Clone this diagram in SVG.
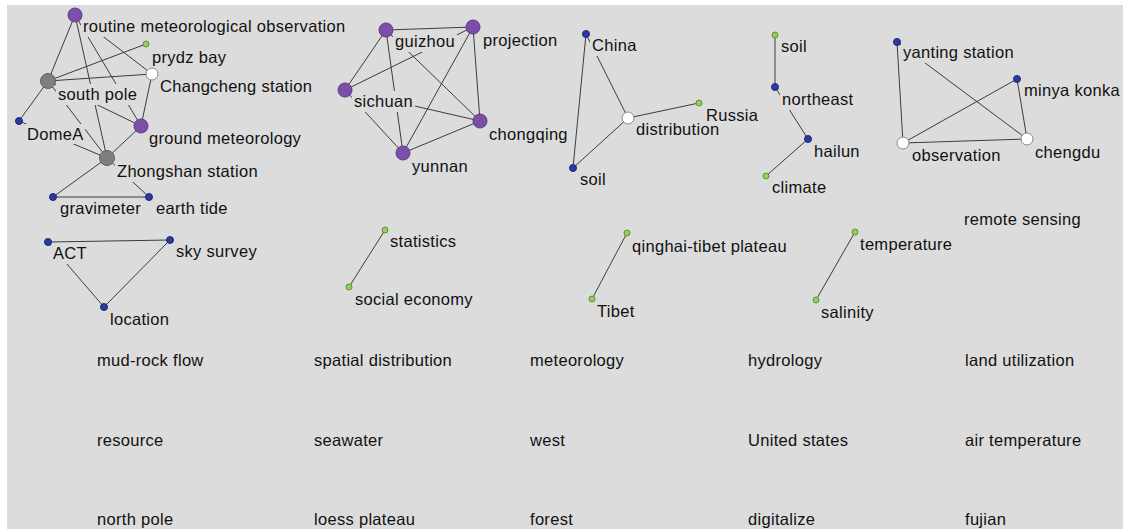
<svg xmlns="http://www.w3.org/2000/svg" width="1123" height="531" viewBox="0 0 1123 531">
<style>
text{font-family:"Liberation Sans",Arial,sans-serif;font-size:16.5px;letter-spacing:0.3px;fill:#111}
.e line{stroke:#3c3c3c;stroke-width:1}
.lb{fill:#dcdcdc}
.pu{fill:#7b4fa9;stroke:#5e3a88;stroke-width:1}
.gr{fill:#7f7f7f;stroke:#606060;stroke-width:1}
.wh{fill:#ffffff;stroke:#8a8a8a;stroke-width:1}
.bl{fill:#2b3aa0;stroke:#1c2878;stroke-width:1}
.gn{fill:#94d254;stroke:#5f8f34;stroke-width:1}
</style>
<rect x="0" y="0" width="1123" height="531" fill="#ffffff"/>
<rect x="7" y="5" width="1116" height="524" fill="#dcdcdc"/>
<g id="connectors" class="e">
<line x1="75" y1="15" x2="48" y2="81"/>
<line x1="75" y1="15" x2="107" y2="158"/>
<line x1="75" y1="15" x2="141" y2="126"/>
<line x1="75" y1="15" x2="152" y2="74"/>
<line x1="146" y1="44" x2="48" y2="81"/>
<line x1="48" y1="81" x2="152" y2="74"/>
<line x1="48" y1="81" x2="19" y2="121"/>
<line x1="152" y1="74" x2="141" y2="126"/>
<line x1="48" y1="81" x2="107" y2="158"/>
<line x1="19" y1="121" x2="107" y2="158"/>
<line x1="48" y1="81" x2="141" y2="126"/>
<line x1="107" y1="158" x2="141" y2="126"/>
<line x1="107" y1="158" x2="53" y2="197"/>
<line x1="107" y1="158" x2="149" y2="197"/>
<line x1="53" y1="197" x2="149" y2="197"/>
<line x1="386" y1="30" x2="473" y2="27"/>
<line x1="386" y1="30" x2="345" y2="90"/>
<line x1="473" y1="27" x2="345" y2="90"/>
<line x1="386" y1="30" x2="403" y2="153"/>
<line x1="386" y1="30" x2="480" y2="121"/>
<line x1="473" y1="27" x2="480" y2="121"/>
<line x1="473" y1="27" x2="403" y2="153"/>
<line x1="345" y1="90" x2="480" y2="121"/>
<line x1="345" y1="90" x2="403" y2="153"/>
<line x1="480" y1="121" x2="403" y2="153"/>
<line x1="586" y1="34" x2="573" y2="168"/>
<line x1="586" y1="34" x2="628" y2="118"/>
<line x1="628" y1="118" x2="699" y2="103"/>
<line x1="628" y1="118" x2="573" y2="168"/>
<line x1="775" y1="35" x2="775" y2="87"/>
<line x1="775" y1="87" x2="808" y2="139"/>
<line x1="808" y1="139" x2="766" y2="176"/>
<line x1="897" y1="42" x2="903" y2="143"/>
<line x1="897" y1="42" x2="1027" y2="139"/>
<line x1="1017" y1="79" x2="903" y2="143"/>
<line x1="1017" y1="79" x2="1027" y2="139"/>
<line x1="903" y1="143" x2="1027" y2="139"/>
<line x1="48" y1="242" x2="170" y2="240"/>
<line x1="48" y1="242" x2="104" y2="307"/>
<line x1="170" y1="240" x2="104" y2="307"/>
<line x1="385" y1="230" x2="349" y2="287"/>
<line x1="627" y1="233" x2="592" y2="299"/>
<line x1="855" y1="232" x2="816" y2="300"/>
</g>
<g id="n-routine"><rect class="lb" x="81" y="16" width="266" height="21"/><circle class="pu" cx="75" cy="15" r="7"/><text x="83" y="32">routine meteorological observation</text></g>
<g id="n-prydz"><rect class="lb" x="150" y="47" width="78" height="21"/><circle class="gn" cx="146" cy="44" r="3"/><text x="152" y="63">prydz bay</text></g>
<g id="n-changcheng"><rect class="lb" x="158" y="76" width="157" height="21"/><circle class="wh" cx="152" cy="74" r="6"/><text x="160" y="92">Changcheng station</text></g>
<g id="n-southpole"><rect class="lb" x="56" y="84" width="83" height="21"/><circle class="gr" cx="48" cy="81" r="7.5"/><text x="58" y="100">south pole</text></g>
<g id="n-domea"><rect class="lb" x="25" y="124" width="60" height="20"/><circle class="bl" cx="19" cy="121" r="3.5"/><text x="27" y="140">DomeA</text></g>
<g id="n-groundmet"><rect class="lb" x="147" y="128" width="156" height="21"/><circle class="pu" cx="141" cy="126" r="7"/><text x="149" y="144">ground meteorology</text></g>
<g id="n-zhongshan"><rect class="lb" x="115" y="161" width="145" height="21"/><circle class="gr" cx="107" cy="158" r="7.5"/><text x="117" y="177">Zhongshan station</text></g>
<g id="n-gravimeter"><rect class="lb" x="58" y="199" width="85" height="20"/><circle class="bl" cx="53" cy="197" r="3.5"/><text x="60" y="214">gravimeter</text></g>
<g id="n-earthtide"><rect class="lb" x="154" y="199" width="76" height="20"/><circle class="bl" cx="149" cy="197" r="3.5"/><text x="156" y="214">earth tide</text></g>
<g id="n-guizhou"><rect class="lb" x="393" y="31" width="64" height="21"/><circle class="pu" cx="386" cy="30" r="7"/><text x="395" y="47">guizhou</text></g>
<g id="n-projection"><rect class="lb" x="481" y="29" width="78" height="21"/><circle class="pu" cx="473" cy="27" r="7"/><text x="483" y="45.5">projection</text></g>
<g id="n-sichuan"><rect class="lb" x="352" y="91" width="63" height="21"/><circle class="pu" cx="345" cy="90" r="7"/><text x="354" y="107">sichuan</text></g>
<g id="n-chongqing"><rect class="lb" x="487" y="124" width="83" height="21"/><circle class="pu" cx="480" cy="121" r="7"/><text x="489" y="140">chongqing</text></g>
<g id="n-yunnan"><rect class="lb" x="410" y="156" width="60" height="21"/><circle class="pu" cx="403" cy="153" r="7"/><text x="412" y="172">yunnan</text></g>
<g id="n-china"><rect class="lb" x="590" y="35" width="49" height="21"/><circle class="bl" cx="586" cy="34" r="3.5"/><text x="592" y="51">China</text></g>
<g id="n-distribution"><rect class="lb" x="634" y="119" width="88" height="21"/><circle class="wh" cx="628" cy="118" r="6"/><text x="636" y="135">distribution</text></g>
<g id="n-russia"><rect class="lb" x="704" y="105" width="56" height="21"/><circle class="gn" cx="699" cy="103" r="3"/><text x="706" y="121">Russia</text></g>
<g id="n-soil1"><rect class="lb" x="578" y="169" width="30" height="21"/><circle class="bl" cx="573" cy="168" r="3.5"/><text x="580" y="185">soil</text></g>
<g id="n-soil2"><rect class="lb" x="779" y="36" width="30" height="21"/><circle class="gn" cx="775" cy="35" r="3"/><text x="781" y="52">soil</text></g>
<g id="n-northeast"><rect class="lb" x="780" y="89" width="76" height="21"/><circle class="bl" cx="775" cy="87" r="3.5"/><text x="782" y="105">northeast</text></g>
<g id="n-hailun"><rect class="lb" x="812" y="141" width="50" height="21"/><circle class="bl" cx="808" cy="139" r="3.5"/><text x="814" y="157">hailun</text></g>
<g id="n-climate"><rect class="lb" x="770" y="177" width="58" height="21"/><circle class="gn" cx="766" cy="176" r="3"/><text x="772" y="193">climate</text></g>
<g id="n-yanting"><rect class="lb" x="901" y="42" width="115" height="21"/><circle class="bl" cx="897" cy="42" r="3.5"/><text x="903" y="58">yanting station</text></g>
<g id="n-minya"><rect class="lb" x="1022" y="80" width="100" height="21"/><circle class="bl" cx="1017" cy="79" r="3.5"/><text x="1024" y="96">minya konka</text></g>
<g id="n-observation"><rect class="lb" x="910" y="145" width="93" height="21"/><circle class="wh" cx="903" cy="143" r="6"/><text x="912" y="161">observation</text></g>
<g id="n-chengdu"><rect class="lb" x="1033" y="142" width="70" height="21"/><circle class="wh" cx="1027" cy="139" r="6"/><text x="1035" y="158">chengdu</text></g>
<g id="n-act"><rect class="lb" x="51" y="243" width="38" height="21"/><circle class="bl" cx="48" cy="242" r="3.5"/><text x="53" y="259">ACT</text></g>
<g id="n-skysurvey"><rect class="lb" x="174" y="241" width="85" height="21"/><circle class="bl" cx="170" cy="240" r="3.5"/><text x="176" y="257">sky survey</text></g>
<g id="n-location"><rect class="lb" x="108" y="309" width="63" height="21"/><circle class="bl" cx="104" cy="307" r="3.5"/><text x="110" y="325">location</text></g>
<g id="n-statistics"><rect class="lb" x="388" y="231" width="69" height="21"/><circle class="gn" cx="385" cy="230" r="3"/><text x="390" y="247">statistics</text></g>
<g id="n-socialeconomy"><rect class="lb" x="353" y="289" width="122" height="21"/><circle class="gn" cx="349" cy="287" r="3"/><text x="355" y="305">social economy</text></g>
<g id="n-qinghai"><rect class="lb" x="630" y="236" width="151" height="21"/><circle class="gn" cx="627" cy="233" r="3"/><text x="632" y="252">qinghai-tibet plateau</text></g>
<g id="n-tibet"><rect class="lb" x="595" y="301" width="42" height="21"/><circle class="gn" cx="592" cy="299" r="3"/><text x="597" y="317">Tibet</text></g>
<g id="n-temperature"><rect class="lb" x="858" y="234" width="96" height="21"/><circle class="gn" cx="855" cy="232" r="3"/><text x="860" y="250">temperature</text></g>
<g id="n-salinity"><rect class="lb" x="819" y="302" width="57" height="21"/><circle class="gn" cx="816" cy="300" r="3"/><text x="821" y="318">salinity</text></g>
<g id="n-remotesensing"><text x="964" y="225">remote sensing</text></g>
<g id="n-mudrockflow"><text x="97" y="366">mud-rock flow</text></g>
<g id="n-spatialdistribution"><text x="314" y="366">spatial distribution</text></g>
<g id="n-meteorology"><text x="530" y="366">meteorology</text></g>
<g id="n-hydrology"><text x="748" y="366">hydrology</text></g>
<g id="n-landutilization"><text x="965" y="366">land utilization</text></g>
<g id="n-resource"><text x="97" y="446">resource</text></g>
<g id="n-seawater"><text x="314" y="446">seawater</text></g>
<g id="n-west"><text x="530" y="446">west</text></g>
<g id="n-unitedstates"><text x="748" y="446">United states</text></g>
<g id="n-airtemperature"><text x="965" y="446">air temperature</text></g>
<g id="n-northpole"><text x="97" y="525">north pole</text></g>
<g id="n-loessplateau"><text x="314" y="525">loess plateau</text></g>
<g id="n-forest"><text x="530" y="525">forest</text></g>
<g id="n-digitalize"><text x="748" y="525">digitalize</text></g>
<g id="n-fujian"><text x="965" y="525">fujian</text></g>
</svg>
